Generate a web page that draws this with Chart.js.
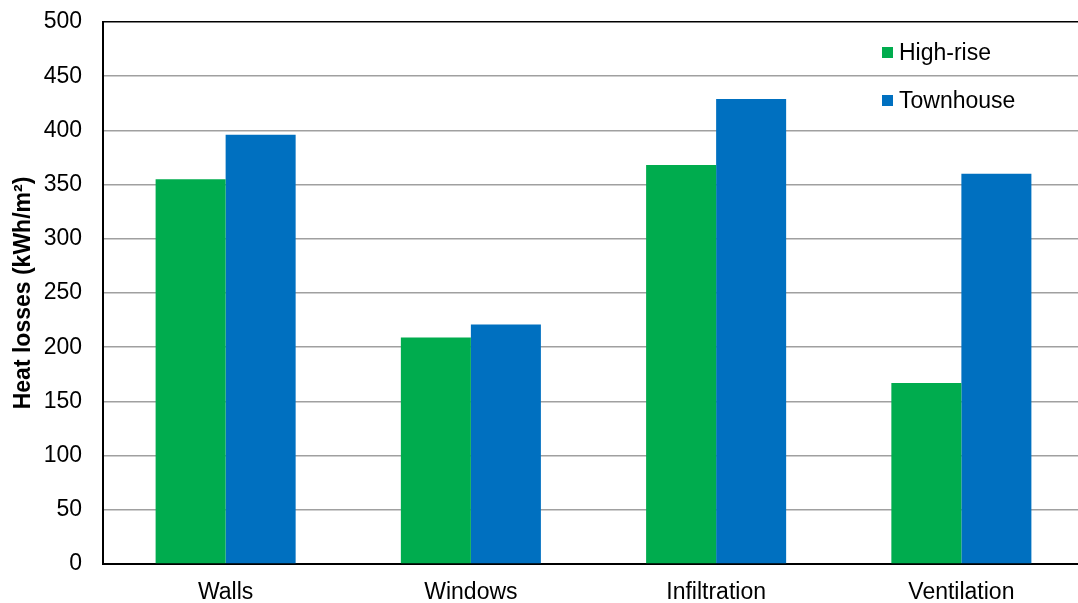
<!DOCTYPE html>
<html>
<head>
<meta charset="utf-8">
<script src="https://cdn.jsdelivr.net/npm/chart.js@4"></script>
<style>
  html, body { margin: 0; padding: 0; background: #fff; overflow: hidden; }
  /* plot runs a few pixels past the right edge of the page */
  #wrap { width: 1084px; height: 603px; position: relative; }
</style>
</head>
<body>
<div id="wrap"><canvas id="pertes"></canvas></div>
<script>
const categories = ['Walls', 'Windows', 'Infiltration', 'Ventilation'];
const highRise = [355, 209, 368, 167];
const townhouse = [396, 221, 429, 360];
const yTicks = [0, 50, 100, 150, 200, 250, 300, 350, 400, 450, 500];

const FONT = "'Liberation Sans', Arial, sans-serif";

// legend drawn inside the plot area, stacked, top right
const legendInside = {
    id: 'legendInside',
    afterDraw(chart) {
        const ctx = chart.ctx;
        ctx.save();
        ctx.font = '23px ' + FONT;
        ctx.textBaseline = 'middle';
        chart.data.datasets.forEach((ds, i) => {
            const y = 53 + i * 48;
            ctx.fillStyle = ds.backgroundColor;
            ctx.fillRect(882, y - 6, 11, 11);
            ctx.fillStyle = '#000';
            ctx.fillText(ds.label, 899, y + 1);
        });
        ctx.restore();
    }
};

new Chart(document.getElementById('pertes'), {
    type: 'bar',
    data: {
        labels: categories,
        datasets: [
            { label: 'High-rise', data: highRise, backgroundColor: '#00ac4e' },
            { label: 'Townhouse', data: townhouse, backgroundColor: '#0070c0' }
        ]
    },
    options: {
        responsive: true,
        maintainAspectRatio: false,
        animation: false,
        layout: { padding: { top: 22, right: 0, bottom: 0, left: 10 } },
        datasets: {
            bar: { categoryPercentage: 0.571, barPercentage: 1.0 }
        },
        scales: {
            x: {
                grid: { display: false, drawTicks: false },
                border: { color: '#000', width: 2 },
                ticks: { color: '#000', font: { family: FONT, size: 23 }, padding: 15 },
                afterFit: (s) => { s.height = 39; s.paddingLeft = 0; s.paddingRight = 0; }
            },
            y: {
                min: 0,
                max: 500,
                afterBuildTicks: (axis) => { axis.ticks = yTicks.map(v => ({ value: v })); },
                afterFit: (s) => { s.width = 93; s.paddingTop = 0; s.paddingBottom = 0; },
                grid: {
                    drawTicks: false,
                    lineWidth: 1.5,
                    color: (c) => (c.tick && c.tick.value === 500 ? '#000' : '#a0a0a0')
                },
                border: { color: '#000', width: 2 },
                ticks: { color: '#000', font: { family: FONT, size: 23 }, padding: 21 },
                title: {
                    display: true,
                    text: 'Heat losses (kWh/m²)',
                    color: '#000',
                    font: { family: FONT, size: 23, weight: 'bold' },
                    padding: { top: 0, bottom: 8 }
                }
            }
        },
        plugins: {
            legend: { display: false },
            tooltip: { enabled: false }
        }
    },
    plugins: [legendInside]
});
</script>
</body>
</html>
